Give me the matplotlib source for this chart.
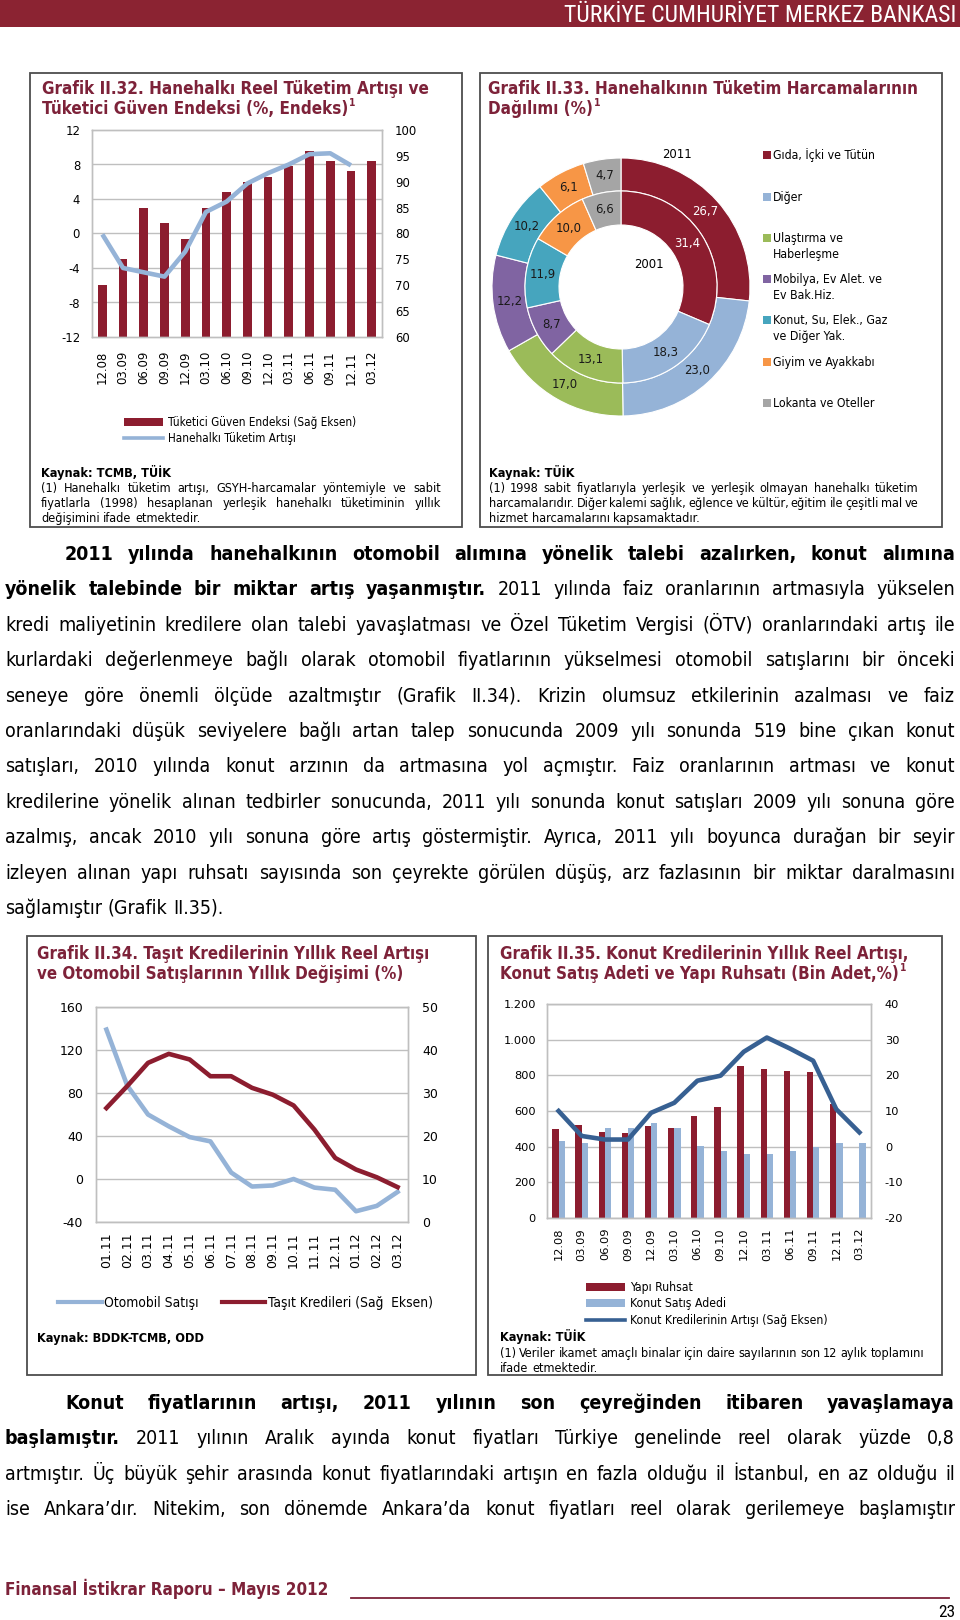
import numpy as np
import matplotlib
matplotlib.use('Agg')
import matplotlib.pyplot as plt
from matplotlib.patches import Rectangle
from matplotlib.lines import Line2D
from matplotlib import font_manager

plt.rcParams['axes.unicode_minus'] = False

W, H, DPI = 960, 1620, 100

# ---------------- data ----------------
g32_cats = ['12.08', '03.09', '06.09', '09.09', '12.09', '03.10', '06.10',
            '09.10', '12.10', '03.11', '06.11', '09.11', '12.11', '03.12']
g32_guven = [70, 75, 85, 82, 79, 85, 88, 90, 91, 93, 96, 94, 92, 94]
g32_tuketim = [-0.1, -4.0, -4.5, -5.0, -2.1, 2.5, 3.7, 5.8, 7.0, 8.0, 9.2, 9.3, 7.9, np.nan]
g32_left_ticks = [-12, -8, -4, 0, 4, 8, 12]
g32_right_ticks = [60, 65, 70, 75, 80, 85, 90, 95, 100]

g33_labels = [['Gıda, İçki ve Tütün'], ['Diğer'], ['Ulaştırma ve', 'Haberleşme'],
              ['Mobilya, Ev Alet. ve', 'Ev Bak.Hiz.'], ['Konut, Su, Elek., Gaz', 've Diğer Yak.'],
              ['Giyim ve Ayakkabı'], ['Lokanta ve Oteller']]
g33_2011 = [26.7, 23.0, 17.0, 12.2, 10.2, 6.1, 4.7]
g33_2001 = [31.4, 18.3, 13.1, 8.7, 11.9, 10.0, 6.6]

g34_cats = ['01.11', '02.11', '03.11', '04.11', '05.11', '06.11', '07.11', '08.11',
            '09.11', '10.11', '11.11', '12.11', '01.12', '02.12', '03.12']
g34_otomobil = [139, 87, 60, 49, 39, 35, 6, -7, -6, 0, -8, -10, -30, -25, -12]
g34_tasit = [26.5, 31.6, 37.0, 39.1, 37.8, 33.9, 33.9, 31.2, 29.6, 27.1, 21.5, 14.9, 12.2, 10.4, 8.1]
g34_left_ticks = [-40, 0, 40, 80, 120, 160]
g34_right_ticks = [0, 10, 20, 30, 40, 50]

g35_cats = ['12.08', '03.09', '06.09', '09.09', '12.09', '03.10', '06.10',
            '09.10', '12.10', '03.11', '06.11', '09.11', '12.11', '03.12']
g35_ruhsat = [500, 519, 483, 474, 517, 507, 571, 624, 854, 837, 826, 818, 642, np.nan]
g35_satis = [431, 421, 507, 507, 535, 507, 401, 376, 360, 360, 376, 399, 421, 421]
g35_kredi = [10.0, 3.0, 2.0, 2.0, 9.5, 12.3, 18.5, 19.9, 26.6, 30.6, 27.5, 24.1, 10.5, 4.0]
g35_left_ticks = [0, 200, 400, 600, 800, 1000, 1200]
g35_left_labels = ['0', '200', '400', '600', '800', '1.000', '1.200']
g35_right_ticks = [-20, -10, 0, 10, 20, 30, 40]

# ---------------- fonts ----------------
_ents = font_manager.fontManager.ttflist
_names = {f.name for f in _ents}


def pick(*cands):
    for c in cands:
        if c in _names:
            return c
    return 'DejaVu Sans'


_djv_cond = any(f.name == 'DejaVu Sans' and 'condensed' in str(f.stretch) for f in _ents)
if _djv_cond:
    BODY = dict(family='DejaVu Sans', fontstretch='condensed')
else:
    BODY = dict(family=pick('PT Sans', 'Roboto'))
NARROW = dict(family=pick('Roboto Condensed', 'PT Sans Narrow', 'Liberation Sans Narrow', 'Roboto'))

# ---------------- style ----------------
RED = '#8C1D2F'
LBLUE = '#95B3D7'
DBLUE = '#376092'
TITLE = '#7D2239'
HEADER = '#8B2332'
GRID = '#BFBFBF'
DONUT_COLORS = ['#8C1D2F', '#95B3D7', '#9BBB59', '#8064A2', '#46A5BE', '#F79646', '#A5A5A5']

fig = plt.figure(figsize=(W / DPI, H / DPI), dpi=DPI)
bg = fig.add_axes([0, 0, 1, 1])
bg.set_xlim(0, W)
bg.set_ylim(H, 0)
bg.axis('off')
renderer = fig.canvas.get_renderer()


def px_axes(x0, y0, x1, y1):
    return fig.add_axes([x0 / W, 1 - y1 / H, (x1 - x0) / W, (y1 - y0) / H])


def measure(s, size, weight='normal', font=BODY):
    t = bg.text(0, 0, s, fontsize=size, fontweight=weight, **font)
    w = t.get_window_extent(renderer).width
    t.remove()
    return w


def fit(s, target, weight='normal', font=BODY, base=10.0):
    return base * target / measure(s, base, weight, font)


def put(x, yc, s, size, weight='normal', font=BODY, color='black', ha='left'):
    yb = yc + 0.36 * size * DPI / 72
    return bg.text(x, yb, s, fontsize=size, fontweight=weight, color=color,
                   ha=ha, va='baseline', **font)


def tokens_of(segments):
    toks = []
    for text, wt in segments:
        toks += [(w, wt) for w in text.split()]
    return toks


def space_w(size, font=BODY):
    return measure('a a', size, 'normal', font) - measure('aa', size, 'normal', font)


def natural(segments, size, font=BODY):
    toks = tokens_of(segments)
    return sum(measure(w, size, wt, font) for w, wt in toks) + space_w(size, font) * (len(toks) - 1)


def jline(segments, x0, x1, yc, size, font=BODY, justify=True, color='black'):
    toks = tokens_of(segments)
    objs, ws = [], []
    for w, wt in toks:
        t = put(x0, yc, w, size, wt, font, color)
        ws.append(t.get_window_extent(renderer).width)
        objs.append(t)
    if justify and len(objs) > 1:
        gap = (x1 - x0 - sum(ws)) / (len(objs) - 1)
    else:
        gap = space_w(size, font)
    x = x0
    for t, w in zip(objs, ws):
        t.set_x(x)
        x += w + gap


def paragraph(lines, x_right, y0, pitch, font=BODY, cap=None):
    ratios = []
    for segs, x0, just in lines:
        if just:
            ratios.append(natural(segs, 10, font) / (x_right - x0))
    size = 10 * 0.99 / max(ratios)
    if cap:
        size = min(size, cap)
    for i, (segs, x0, just) in enumerate(lines):
        jline(segs, x0, x_right, y0 + i * pitch, size, font, just)
    return size


def box(x0, y0, x1, y1):
    bg.add_patch(Rectangle((x0, y0), x1 - x0, y1 - y0, fill=False, ec='#4D4D4D', lw=1.3))


def title(x0, x1, y1, line1, line2, sup=False):
    size = fit(line1, x1 - x0, 'bold')
    put(x0, y1, line1, size, 'bold', color=TITLE)
    t = put(x0, y1 + 20, line2, size, 'bold', color=TITLE)
    if sup:
        w = t.get_window_extent(renderer).width
        put(x0 + w + 1, y1 + 14, '1', size * 0.6, 'bold', color=TITLE)


def style_ax(a):
    for s in a.spines.values():
        s.set_color(GRID)
        s.set_linewidth(1)
    a.tick_params(length=0, colors='black')


# ---------------- header ----------------
bg.add_patch(Rectangle((0, 0), W, 27, color=HEADER, lw=0))
hs = fit('TÜRKİYE CUMHURİYET MERKEZ BANKASI', 392, font=NARROW)
put(956, 13.5, 'TÜRKİYE CUMHURİYET MERKEZ BANKASI', hs, font=NARROW, color='white', ha='right')

# ---------------- boxes ----------------
box(30, 73, 462, 527)
box(480, 73, 942, 527)
box(27, 936, 476, 1375)
box(488, 936, 942, 1375)

title(42, 427, 88, 'Grafik II.32. Hanehalkı Reel Tüketim Artışı ve',
      'Tüketici Güven Endeksi (%, Endeks)', sup=True)
title(488, 917, 88, 'Grafik II.33. Hanehalkının Tüketim Harcamalarının', 'Dağılımı (%)', sup=True)
title(37, 428, 953, 'Grafik II.34. Taşıt Kredilerinin Yıllık Reel Artışı',
      've Otomobil Satışlarının Yıllık Değişimi (%)')
title(500, 907, 953, 'Grafik II.35. Konut Kredilerinin Yıllık Reel Artışı,',
      'Konut Satış Adeti ve Yapı Ruhsatı (Bin Adet,%)', sup=True)

# ---------------- Grafik II.32 ----------------
a32 = px_axes(92, 130, 382, 337)
x32 = np.arange(len(g32_cats))
a32.bar(x32, g32_guven, width=0.42, color=RED, zorder=2)
a32.set_ylim(60, 100)
a32.set_xlim(-0.5, len(g32_cats) - 0.5)
for t in g32_left_ticks[1:-1]:
    a32.axhline(60 + (t - g32_left_ticks[0]) * 40 / 24, color=GRID, lw=1, zorder=1)
l32 = a32.twinx()
a32.yaxis.tick_right()
a32.set_yticks(g32_right_ticks)
l32.yaxis.tick_left()
l32.plot(x32, g32_tuketim, color=LBLUE, lw=3.3, solid_joinstyle='round', solid_capstyle='butt')
l32.set_ylim(-12, 12)
l32.set_yticks(g32_left_ticks)
a32.set_xticks(x32)
a32.set_xticklabels(g32_cats, rotation=90)
for a in (a32, l32):
    style_ax(a)
a32.tick_params(axis='y', labelsize=8.4, pad=9.4)
a32.tick_params(axis='x', labelsize=8.4, pad=10)
l32.tick_params(axis='y', labelsize=8.4, pad=8.6)

ls = fit('Tüketici Güven Endeksi (Sağ Eksen)', 187)
bg.add_patch(Rectangle((124, 418), 39, 8, color=RED, lw=0))
put(168, 422, 'Tüketici Güven Endeksi (Sağ Eksen)', ls)
bg.add_line(Line2D([124, 163], [438, 438], color=LBLUE, lw=2.6))
put(168, 438, 'Hanehalkı Tüketim Artışı', ls)

fs = fit('(1) 1998 sabit fiyatlarıyla yerleşik ve yerleşik olmayan hanehalkı tüketim', 0.97 * 429)
put(41, 472, 'Kaynak: TCMB, TÜİK', fs, 'bold')
jline([('(1) Hanehalkı tüketim artışı, GSYH-harcamalar yöntemiyle ve sabit', 'normal')], 41, 441, 487, fs)
jline([('fiyatlarla (1998) hesaplanan yerleşik hanehalkı tüketiminin yıllık', 'normal')], 41, 441, 502, fs)
jline([('değişimini ifade etmektedir.', 'normal')], 41, 441, 517, fs, justify=False)

# ---------------- Grafik II.33 ----------------
cx, cy, R = 621, 287, 129
dax = px_axes(cx - 140, cy - 140, cx + 140, cy + 140)
dax.pie(g33_2011, radius=R, colors=DONUT_COLORS, startangle=90, counterclock=False,
        wedgeprops=dict(width=33, edgecolor='white', linewidth=0.8))
dax.pie(g33_2001, radius=R - 33, colors=DONUT_COLORS, startangle=90, counterclock=False,
        wedgeprops=dict(width=34, edgecolor='white', linewidth=0.8))
dax.set_xlim(-140, 140)
dax.set_ylim(-140, 140)
dax.set_aspect('equal')
dax.axis('off')
for vals, r in ((g33_2011, R - 16.5), (g33_2001, R - 33 - 17)):
    tot = sum(vals)
    cum = 0
    for i, v in enumerate(vals):
        mid = (cum + v / 2) / tot * 2 * np.pi
        cum += v
        col = 'white' if i == 0 else '#1A1A1A'
        dax.text(r * np.sin(mid), r * np.cos(mid), f'{v:.1f}'.replace('.', ','),
                 ha='center', va='center', fontsize=9.4, color=col, **BODY)
put(677, 153, '2011', 9.4, ha='center')
put(649, 263, '2001', 9.4, ha='center')

lg = fit('Gıda, İçki ve Tütün', 102)
leg_y = [155, 197, 238, 279, 320, 362, 403]
for lab, yy, col in zip(g33_labels, leg_y, DONUT_COLORS):
    bg.add_patch(Rectangle((763, yy - 4), 8, 8, color=col, lw=0))
    for k, txt in enumerate(lab):
        put(773, yy + k * 15.5, txt, lg)

put(489, 472, 'Kaynak: TÜİK', fs, 'bold')
jline([('(1) 1998 sabit fiyatlarıyla yerleşik ve yerleşik olmayan hanehalkı tüketim', 'normal')], 489, 918, 487, fs)
jline([('harcamalarıdır. Diğer kalemi sağlık, eğlence ve kültür, eğitim ile çeşitli mal ve', 'normal')], 489, 918, 502, fs)
jline([('hizmet harcamalarını kapsamaktadır.', 'normal')], 489, 918, 517, fs, justify=False)

# ---------------- body paragraph 1 ----------------
para1 = [
    ([('2011 yılında hanehalkının otomobil alımına yönelik talebi azalırken, konut alımına', 'bold')], 65, True),
    ([('yönelik talebinde bir miktar artış yaşanmıştır.', 'bold'),
      ('2011 yılında faiz oranlarının artmasıyla yükselen', 'normal')], 5, True),
    ([('kredi maliyetinin kredilere olan talebi yavaşlatması ve Özel Tüketim Vergisi (ÖTV) oranlarındaki artış ile', 'normal')], 5, True),
    ([('kurlardaki değerlenmeye bağlı olarak otomobil fiyatlarının yükselmesi otomobil satışlarını bir önceki', 'normal')], 5, True),
    ([('seneye göre önemli ölçüde azaltmıştır (Grafik II.34). Krizin olumsuz etkilerinin azalması ve faiz', 'normal')], 5, True),
    ([('oranlarındaki düşük seviyelere bağlı artan talep sonucunda 2009 yılı sonunda 519 bine çıkan konut', 'normal')], 5, True),
    ([('satışları, 2010 yılında konut arzının da artmasına yol açmıştır. Faiz oranlarının artması ve konut', 'normal')], 5, True),
    ([('kredilerine yönelik alınan tedbirler sonucunda, 2011 yılı sonunda konut satışları 2009 yılı sonuna göre', 'normal')], 5, True),
    ([('azalmış, ancak 2010 yılı sonuna göre artış göstermiştir. Ayrıca, 2011 yılı boyunca durağan bir seyir', 'normal')], 5, True),
    ([('izleyen alınan yapı ruhsatı sayısında son çeyrekte görülen düşüş, arz fazlasının bir miktar daralmasını', 'normal')], 5, True),
    ([('sağlamıştır (Grafik II.35).', 'normal')], 5, False),
]
bsize = paragraph(para1, 955, 553, 35.4, cap=14)

para2 = [
    ([('Konut fiyatlarının artışı, 2011 yılının son çeyreğinden itibaren yavaşlamaya', 'bold')], 65, True),
    ([('başlamıştır.', 'bold'),
      ('2011 yılının Aralık ayında konut fiyatları Türkiye genelinde reel olarak yüzde 0,8', 'normal')], 5, True),
    ([('artmıştır. Üç büyük şehir arasında konut fiyatlarındaki artışın en fazla olduğu il İstanbul, en az olduğu il', 'normal')], 5, True),
    ([('ise Ankara’dır. Nitekim, son dönemde Ankara’da konut fiyatları reel olarak gerilemeye başlamıştır', 'normal')], 5, True),
]
for i, (segs, x0, just) in enumerate(para2):
    jline(segs, x0, 955, 1402 + i * 35.3, bsize, BODY, just)

# ---------------- Grafik II.34 ----------------
a34 = px_axes(96, 1007, 408, 1222)
x34 = np.arange(len(g34_cats))
a34.plot(x34, g34_otomobil, color=LBLUE, lw=3.3, solid_joinstyle='round')
a34.set_ylim(-40, 160)
a34.set_yticks(g34_left_ticks)
a34.set_xlim(-0.5, len(g34_cats) - 0.5)
a34.grid(axis='y', color=GRID, lw=1)
a34.set_axisbelow(True)
a34.set_xticks(x34)
a34.set_xticklabels(g34_cats, rotation=90)
r34 = a34.twinx()
r34.plot(x34, g34_tasit, color=RED, lw=3.3, solid_joinstyle='round')
r34.set_ylim(0, 50)
r34.set_yticks(g34_right_ticks)
for a in (a34, r34):
    style_ax(a)
a34.tick_params(axis='y', labelsize=9, pad=9.4)
a34.tick_params(axis='x', labelsize=9, pad=7.2)
r34.tick_params(axis='y', labelsize=9, pad=10)

l34 = fit('Otomobil Satışı', 94)
bg.add_line(Line2D([58, 102], [1302, 1302], color=LBLUE, lw=3))
put(104, 1302, 'Otomobil Satışı', l34)
bg.add_line(Line2D([222, 265], [1302, 1302], color=RED, lw=3))
put(268, 1302, 'Taşıt Kredileri (Sağ  Eksen)', l34)
put(37, 1337, 'Kaynak: BDDK-TCMB, ODD', fs, 'bold')

# ---------------- Grafik II.35 ----------------
a35 = px_axes(547, 1004, 871, 1218)
x35 = np.arange(len(g35_cats))
a35.bar(x35 - 0.135, g35_ruhsat, width=0.27, color=RED)
a35.bar(x35 + 0.135, g35_satis, width=0.27, color=LBLUE)
a35.set_ylim(0, 1200)
a35.set_yticks(g35_left_ticks)
a35.set_yticklabels(g35_left_labels)
a35.set_xlim(-0.5, len(g35_cats) - 0.5)
a35.grid(axis='y', color=GRID, lw=1)
a35.set_axisbelow(True)
a35.set_xticks(x35)
a35.set_xticklabels(g35_cats, rotation=90)
r35 = a35.twinx()
r35.plot(x35, g35_kredi, color=DBLUE, lw=3.3, solid_joinstyle='round')
r35.set_ylim(-20, 40)
r35.set_yticks(g35_right_ticks)
for a in (a35, r35):
    style_ax(a)
a35.tick_params(axis='y', labelsize=8.2, pad=8)
a35.tick_params(axis='x', labelsize=8.2, pad=7.2)
r35.tick_params(axis='y', labelsize=8.2, pad=10)

l35 = fit('Konut Kredilerinin Artışı (Sağ Eksen)', 198)
bg.add_patch(Rectangle((586, 1283), 39, 8, color=RED, lw=0))
put(630, 1287, 'Yapı Ruhsat', l35)
bg.add_patch(Rectangle((586, 1299), 39, 8, color=LBLUE, lw=0))
put(630, 1303, 'Konut Satış Adedi', l35)
bg.add_line(Line2D([586, 625], [1320, 1320], color=DBLUE, lw=2.6))
put(630, 1320, 'Konut Kredilerinin Artışı (Sağ Eksen)', l35)
put(500, 1336, 'Kaynak: TÜİK', fs, 'bold')
jline([('(1) Veriler ikamet amaçlı binalar için daire sayılarının son 12 aylık toplamını', 'normal')], 500, 924, 1352, fs)
jline([('ifade etmektedir.', 'normal')], 500, 924, 1367, fs, justify=False)

# ---------------- footer ----------------
ff = fit('Finansal İstikrar Raporu – Mayıs 2012', 321, 'bold')
put(5, 1589, 'Finansal İstikrar Raporu – Mayıs 2012', ff, 'bold', color=TITLE)
bg.add_line(Line2D([351, 949], [1598, 1598], color=TITLE, lw=1.3))
put(955, 1611, '23', 12.5, font=NARROW, ha='right')

fig.savefig('out.png', dpi=DPI)
